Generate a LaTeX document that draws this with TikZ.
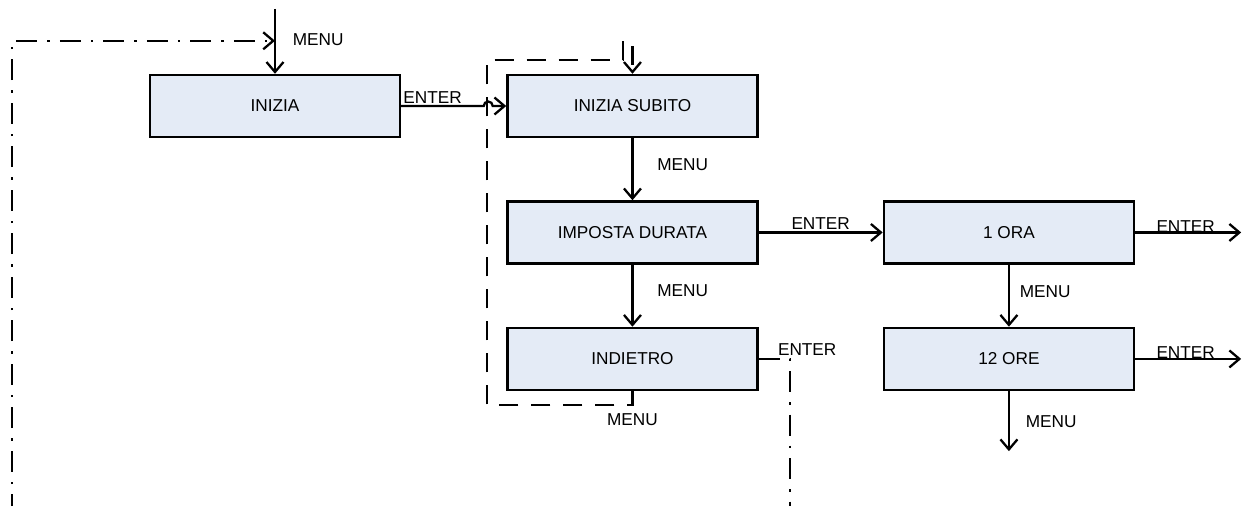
\documentclass[tikz,border=0pt]{standalone}
\usepackage{fontspec}
\setmainfont{Liberation Sans}
\usepackage{tikz}
\usetikzlibrary{arrows.meta,positioning}
\usepackage{xcolor}
\definecolor{boxfill}{RGB}{228,235,246}
\tikzset{
  menubox/.style={rectangle, draw=black, line width=1.4pt, fill=boxfill,
                  minimum width=5cm, minimum height=1.24cm, inner sep=0pt,
                  font=\fontsize{9.8}{11.8}\selectfont},
  arrow/.style={-{Straight Barb[length=2mm,width=3.4mm]}, line width=1.3pt},
  dashdot/.style={line width=1.4pt, dash pattern=on 0.42cm off 0.2cm on 0.05cm off 0.2cm},
  loopdash/.style={line width=1.3pt, dash pattern=on 0.38cm off 0.26cm},
  keylabel/.style={font=\fontsize{9.8}{11.8}\selectfont, inner sep=1pt},
}
\begin{document}
\begin{tikzpicture}[node distance=1.24cm]
\useasboundingbox (0,0) rectangle (24.84,-10.12);
\node[menubox] (inizia) at (5.5,-2.12) {INIZIA};
\node[menubox, right=2.1cm of inizia] (subito) {INIZIA SUBITO};
\node[menubox, below=of subito] (durata) {IMPOSTA DURATA};
\node[menubox, below=of durata] (indietro) {INDIETRO};
\node[menubox, right=2.48cm of durata] (ora) {1 ORA};
\node[menubox, below=of ora] (ore) {12 ORE};
\coordinate (start) at ([yshift=1.3cm]inizia.north);
\coordinate (backleft) at (0.24,-10.12);
\coordinate (backright) at (15.8,-10.12);
\coordinate (loopbl) at (9.74,-8.1);
\coordinate (looptl) at (9.74,-1.2);
\coordinate (oraout) at ([xshift=2.12cm]ora.east);
\coordinate (oreout) at ([xshift=2.12cm]ore.east);
\coordinate (oredown) at ([yshift=-1.2cm]ore.south);
\draw[arrow] (start) -- node[keylabel, pos=0.48, anchor=west, xshift=0.3cm] {MENU} (inizia);
\draw[dashdot, arrow, dash phase=0.18cm] (backleft) |- ([yshift=0.66cm]inizia.north);
\draw[arrow] (inizia.east) -- ++(1.65,0) arc[start angle=180, end angle=0, radius=0.09cm] -- (subito.west);
\node[keylabel, anchor=south west] at (inizia.east) {ENTER};
\draw[loopdash, arrow] (indietro.south) |- (loopbl) -- (looptl) -- (12.46,-1.2) -- (12.46,-0.84) -- (subito.north |- 0,-0.84) -- (subito.north);
\node[keylabel, anchor=north, yshift=-0.14cm] at (indietro.south |- loopbl) {MENU};
\foreach \a/\b in {subito/durata, durata/indietro}
  \draw[arrow] (\a) -- node[keylabel, anchor=west, xshift=0.44cm, yshift=0.1cm] {MENU} (\b);
\draw[arrow] (durata) -- node[keylabel, above] {ENTER} (ora);
\draw[arrow] (ora) -- node[keylabel, anchor=west, xshift=0.16cm, yshift=0.08cm] {MENU} (ore);
\draw[arrow] (ore.south) -- node[keylabel, anchor=west, xshift=0.28cm] {MENU} (oredown);
\foreach \a in {ora, ore} {
  \draw[arrow] (\a.east) -- (\a out);
  \node[keylabel, anchor=base west, inner sep=0pt] at ([xshift=0.42cm]\a.east) {ENTER};
}
\draw[dashdot] (indietro.east) -| (backright);
\node[keylabel, anchor=base west, inner sep=0pt] at ([shift={(0.38,0.06)}]indietro.east) {ENTER};
\end{tikzpicture}
\end{document}
